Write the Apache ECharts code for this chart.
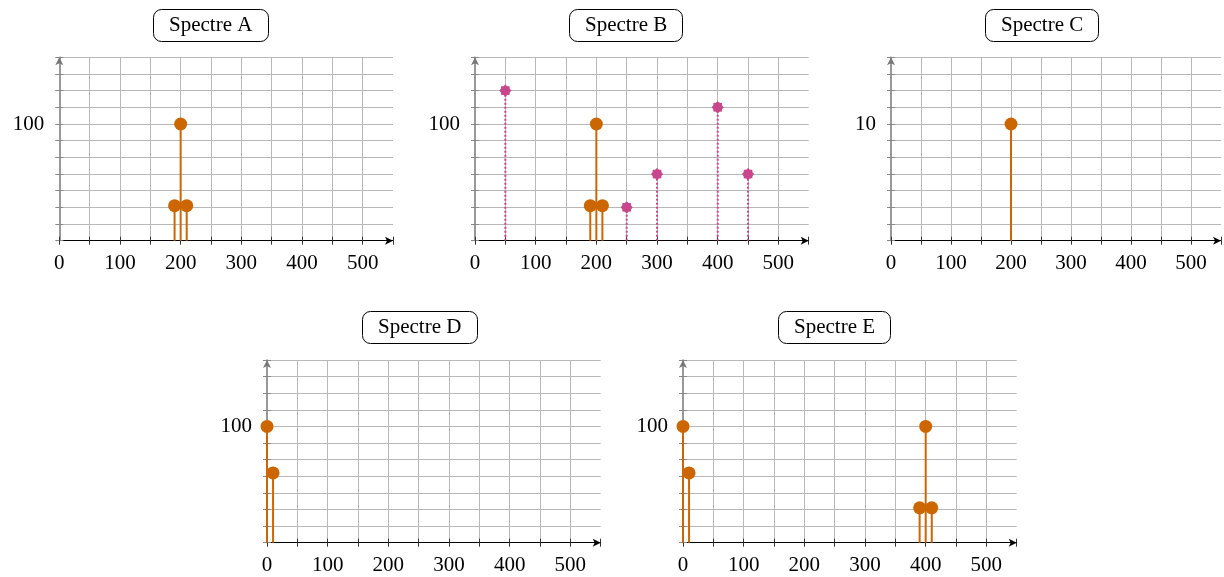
<!DOCTYPE html>
<html>
<head>
<meta charset="utf-8">
<script src="https://cdn.jsdelivr.net/npm/echarts@6/dist/echarts.min.js"></script>
<style>html,body{margin:0;padding:0;background:#fff}#c{width:1224px;height:577px}</style>
</head>
<body>
<div id="c"></div>
<script>
// ---- data ----
const titles = ['Spectre A', 'Spectre B', 'Spectre C', 'Spectre D', 'Spectre E'];
const xTicks = [0, 100, 200, 300, 400, 500];
const yLabelA = 100, yLabelB = 100, yLabelC = 10, yLabelD = 100, yLabelE = 100;

const specA_x = [190, 200, 210];
const specA_y = [30, 100, 30];

const specB_x = [190, 200, 210];
const specB_y = [30, 100, 30];
const specB2_x = [50, 250, 300, 400, 450];
const specB2_y = [128.6, 28.6, 57.1, 114.3, 57.1];

const specC_x = [200];
const specC_y = [10];

const specD_x = [0, 10];
const specD_y = [100, 60];

const specE_x = [0, 10, 390, 400, 410];
const specE_y = [100, 60, 30, 100, 30];

// ---- layout ----
const ORANGE = '#cc6600', PINK = '#c8468b';
const FONT = 'Liberation Serif';
const W = 333.7;
const panels = [
  {left: 59.3, top: 57.3, h: 183.4, ylab: yLabelA, tleft: 153, ttop: 9,
   series: [{x: specA_x, y: specA_y, kind: 'o'}]},
  {left: 475, top: 57.3, h: 183.4, ylab: yLabelB, tleft: 569, ttop: 9,
   series: [{x: specB2_x, y: specB2_y, kind: 'p'}, {x: specB_x, y: specB_y, kind: 'o'}]},
  {left: 891, top: 57.3, h: 183.4, ylab: yLabelC, tleft: 985, ttop: 9,
   series: [{x: specC_x, y: specC_y, kind: 'o'}]},
  {left: 267, top: 360, h: 182.7, ylab: yLabelD, tleft: 362, ttop: 311,
   series: [{x: specD_x, y: specD_y, kind: 'o'}]},
  {left: 683, top: 360, h: 182.7, ylab: yLabelE, tleft: 778, ttop: 311,
   series: [{x: specE_x, y: specE_y, kind: 'o'}]}
];
const STAR = 'path://M10,0L13.06,2.61L17.07,2.93L17.39,6.94L20,10L17.39,13.06L17.07,17.07L13.06,17.39L10,20L6.94,17.39L2.93,17.07L2.61,13.06L0,10L2.61,6.94L2.93,2.93L6.94,2.61Z';

const grid = [], xAxis = [], yAxis = [], series = [], title = [];
panels.forEach((p, i) => {
  grid.push({left: p.left, top: p.top, width: W, height: p.h, containLabel: false});
  const ymax = p.ylab * 11 / 7, yint = p.ylab / 7;
  title.push({
    text: titles[i], left: p.tleft, top: p.ttop,
    borderColor: '#000', borderWidth: 1, borderRadius: 8, backgroundColor: '#fff',
    padding: [6, 16, 6, 16],
    textStyle: {fontFamily: FONT, fontSize: 21, fontWeight: 'normal', color: '#000'}
  });
  // main x axis
  xAxis.push({
    gridIndex: i, type: 'value', min: 0, max: 550, interval: 50,
    axisLine: {show: true, onZero: false, lineStyle: {color: '#000', width: 1}, symbol: ['none', 'arrow'], symbolSize: [6, 8]},
    axisTick: {show: true, length: 4, lineStyle: {color: '#333', width: 1}},
    axisLabel: {show: true, margin: 12, fontFamily: FONT, fontSize: 21, color: '#000',
      formatter: v => xTicks.includes(Math.round(v)) && Math.abs(v - Math.round(v)) < 1e-6 ? String(Math.round(v)) : ''},
    splitLine: {show: true, showMinLine: false, showMaxLine: false, lineStyle: {color: '#b8b8b8', width: 1}}
  });
  // inside tick axis
  xAxis.push({
    gridIndex: i, type: 'value', min: 0, max: 550, interval: 50, position: 'bottom',
    axisLine: {show: false}, axisLabel: {show: false}, splitLine: {show: false},
    axisTick: {show: true, inside: true, length: 4, lineStyle: {color: '#333', width: 1}}
  });
  yAxis.push({
    gridIndex: i, type: 'value', min: 0, max: ymax, interval: yint,
    axisLine: {show: true, onZero: false, lineStyle: {color: '#777', width: 1.5}, symbol: ['none', 'arrow'], symbolSize: [6, 8]},
    axisTick: {show: true, length: 4, lineStyle: {color: '#888', width: 1}},
    axisLabel: {show: true, margin: 15, fontFamily: FONT, fontSize: 21, color: '#000',
      formatter: v => Math.abs(v - p.ylab) < 1e-3 ? String(p.ylab) : ''},
    splitLine: {show: true, showMinLine: false, showMaxLine: true, lineStyle: {color: '#b8b8b8', width: 1}}
  });
  yAxis.push({
    gridIndex: i, type: 'value', min: 0, max: ymax, interval: yint, position: 'left',
    axisLine: {show: false}, axisLabel: {show: false}, splitLine: {show: false},
    axisTick: {show: true, inside: true, length: 4, lineStyle: {color: '#888', width: 1}}
  });
  p.series.forEach(s => {
    const data = s.x.map((x, k) => [x, s.y[k]]);
    const color = s.kind === 'o' ? ORANGE : PINK;
    series.push({
      type: 'custom', xAxisIndex: 2 * i, yAxisIndex: 2 * i, data: data, z: 3,
      renderItem: (params, api) => {
        const a = api.coord([api.value(0), 0]);
        const b = api.coord([api.value(0), api.value(1)]);
        return {type: 'line', shape: {x1: a[0], y1: a[1], x2: b[0], y2: b[1]},
          style: {stroke: color, lineWidth: 2, lineDash: s.kind === 'o' ? null : [2, 2]}};
      }
    });
    series.push({
      type: 'scatter', xAxisIndex: 2 * i, yAxisIndex: 2 * i, data: data, z: 4,
      symbol: s.kind === 'o' ? 'circle' : STAR, symbolSize: s.kind === 'o' ? 13 : 12,
      itemStyle: {color: color, opacity: 1}
    });
  });
});

const chart = echarts.init(document.getElementById('c'), null, {renderer: 'canvas'});
chart.setOption({animation: false, backgroundColor: '#fff', title, grid, xAxis, yAxis, series});
</script>
</body>
</html>
